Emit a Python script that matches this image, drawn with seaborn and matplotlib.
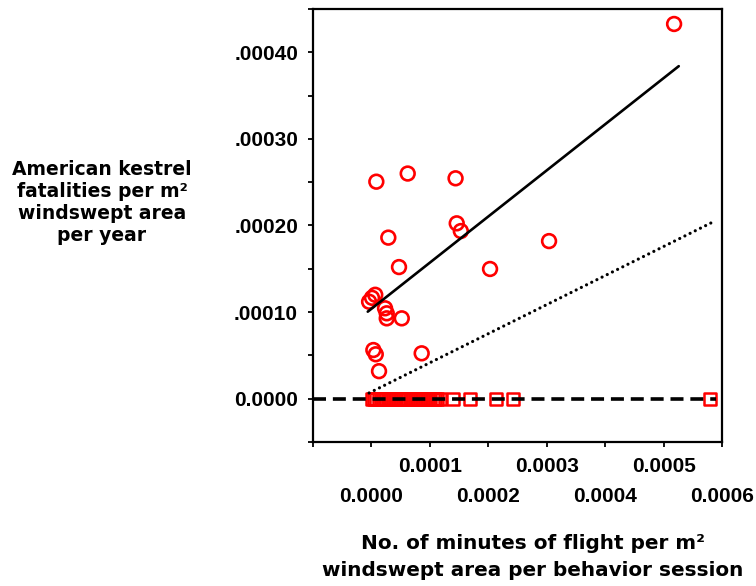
import matplotlib
matplotlib.use("Agg")
import matplotlib.pyplot as plt
import seaborn as sns
import pandas as pd

# ---- data ----
circle_x = [0.0000289, 0.0000472, 0.000146, 0.000153, 0.000203,
            -0.000004, 0.000001, 0.0000065, 0.0000233, 0.0000262,
            0.0000262, 0.0000519, 0.0000033, 0.0000074, 0.0000130,
            0.0000860, 0.000304, 0.0000084, 0.0000621, 0.000144, 0.000518]
circle_y = [0.000186, 0.000152, 0.0002025, 0.0001936, 0.0001498,
            0.000112, 0.0001165, 0.000120, 0.0001044, 0.0000986,
            0.0000928, 0.0000928, 0.0000562, 0.0000513, 0.0000318,
            0.0000524, 0.000182, 0.0002506, 0.000260, 0.0002545, 0.0004327]

square_x = [0.0000000, 0.0000035, 0.0000080, 0.0000120, 0.0000165, 0.0000200,
            0.0000245, 0.0000290, 0.0000330, 0.0000370, 0.0000415, 0.0000455,
            0.0000500, 0.0000540, 0.0000585, 0.0000625, 0.0000670, 0.0000710,
            0.0000750, 0.0000795, 0.0000835, 0.0000880, 0.0000920, 0.0000965,
            0.0001005, 0.0001050, 0.0001090, 0.0001130, 0.0001170,
            0.0001397, 0.0001688, 0.0002133, 0.0002423, 0.0005790]
square_y = [0.0] * len(square_x)

solid_x = [-0.0000063, 0.000526]
solid_y = [0.0001005, 0.000384]
dotted_x = [-0.000004, 0.000581]
dotted_y = [0.0000066, 0.0002029]
dashed_x = [-0.0001, 0.000590]
dashed_y = [0.0, 0.0]

x_ticks_upper = [0.0001, 0.0003, 0.0005]
x_labels_upper = ["0.0001", "0.0003", "0.0005"]
x_ticks_lower = [-0.0001, 0.0, 0.0002, 0.0004, 0.0006]
x_labels_lower = ["", "0.0000", "0.0002", "0.0004", "0.0006"]
y_ticks = [0.0, 0.0001, 0.0002, 0.0003, 0.0004]
y_ticklabels = ["0.0000", ".00010", ".00020", ".00030", ".00040"]
y_minor = [-0.00005, 0.00005, 0.00015, 0.00025, 0.00035, 0.00045]

y_label = "American kestrel\nfatalities per m\u00b2\nwindswept area\nper year"
x_label = "No. of minutes of flight per m\u00b2\nwindswept area per behavior session"

# ---- figure ----
sns.set_theme(style="white")
plt.rcParams["font.family"] = ["DejaVu Sans"]
plt.rcParams["text.color"] = "black"
plt.rcParams["xtick.color"] = "black"
plt.rcParams["ytick.color"] = "black"

W, H = 756, 586
fig = plt.figure(figsize=(W / 100, H / 100), dpi=100)
ax = fig.add_axes([313 / W, 1 - 442 / H, (722 - 313) / W, (442 - 9) / H])

circles = pd.DataFrame({"x": circle_x, "y": circle_y})
squares = pd.DataFrame({"x": square_x, "y": square_y})

sns.scatterplot(data=squares, x="x", y="y", marker="s", s=70,
                edgecolor="#FF0000", linewidth=1.8, ax=ax, zorder=2)
ax.collections[-1].set_facecolor("none")
sns.scatterplot(data=circles, x="x", y="y", marker="o", s=98,
                edgecolor="#FF0000", linewidth=1.9, ax=ax, zorder=2)
ax.collections[-1].set_facecolor("none")

sns.lineplot(x=solid_x, y=solid_y, color="black", linewidth=1.9, ax=ax, zorder=3)
sns.lineplot(x=dotted_x, y=dotted_y, color="black", linewidth=2.3,
             linestyle=(0, (0.01, 1.8)), solid_capstyle="round",
             dash_capstyle="round", ax=ax, zorder=3)
sns.lineplot(x=dashed_x, y=dashed_y, color="black", linewidth=2.6,
             linestyle=(0, (3.6, 1.9)), dash_capstyle="butt", ax=ax, zorder=3)

ax.set_xlim(-0.0001, 0.0006)
ax.set_ylim(-0.00005, 0.00045)
ax.set_xlabel("")
ax.set_ylabel("")

tick_font = dict(family="Liberation Sans", weight="bold", size=15, color="black")
ax.set_xticks(x_ticks_upper)
ax.set_xticklabels(x_labels_upper, fontdict=tick_font)
ax.set_xticks(x_ticks_lower, minor=True)
ax.set_xticklabels(x_labels_lower, minor=True, fontdict=tick_font)
ax.set_yticks(y_ticks)
ax.set_yticklabels(y_ticklabels, fontdict=tick_font)
ax.set_yticks(y_minor, minor=True)

ax.tick_params(axis="both", which="both", direction="out", length=3.8,
               width=1.3, color="black", labelcolor="black", left=True,
               bottom=True, right=False, top=False)
ax.tick_params(axis="x", which="major", pad=7)
ax.tick_params(axis="x", which="minor", pad=28.5)
ax.tick_params(axis="y", which="both", pad=7)

for sp in ax.spines.values():
    sp.set_visible(True)
    sp.set_color("black")
    sp.set_linewidth(1.6)
ax.grid(False)

fig.text(102 / W, 1 - 203 / H, y_label, ha="center", va="center",
         multialignment="center", fontsize=13.5, fontweight="bold",
         linespacing=1.2, color="black")
fig.text(533 / W, 1 - 557 / H, x_label, ha="center", va="center",
         multialignment="center", fontsize=14.4, fontweight="bold",
         linespacing=1.5, color="black")

fig.savefig("out.png", dpi=100, facecolor="white")
